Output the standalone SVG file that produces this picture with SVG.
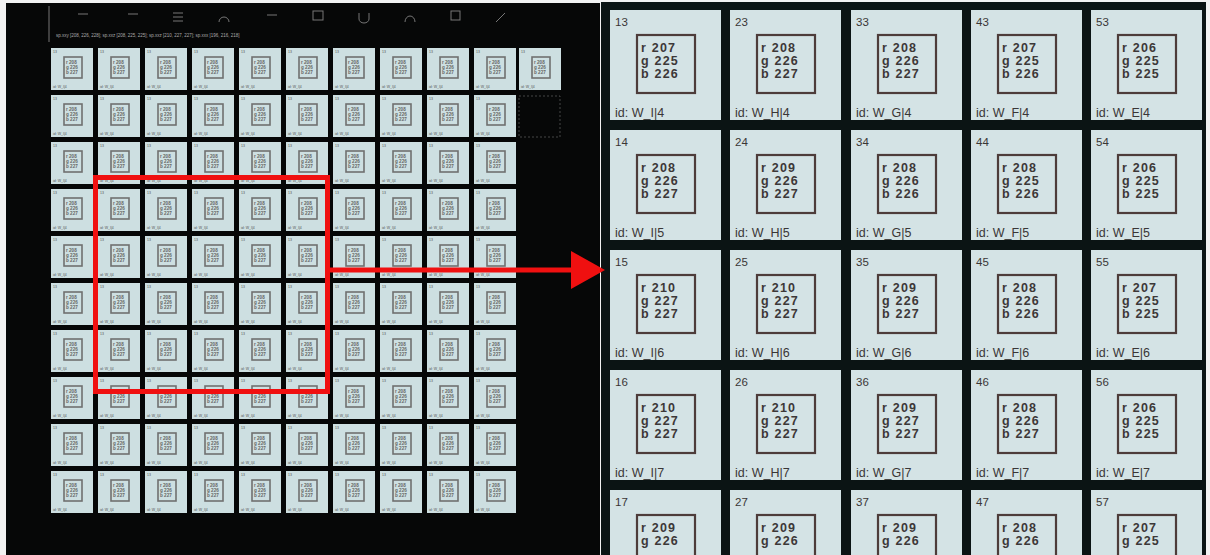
<svg xmlns="http://www.w3.org/2000/svg" xmlns:xlink="http://www.w3.org/1999/xlink" width="1210" height="555" viewBox="0 0 1210 555">
<style>
.t{fill:#d4e3e5}
.lt{fill:#cddfe1}
.sq{fill:none;stroke:#4d3c3a;stroke-width:2.2}
.lsq{fill:none;stroke:#707070;stroke-width:1.6}
.n{font-family:"Liberation Sans",Arial,sans-serif;font-size:11.5px;fill:#3a3636}
.v{font-family:"Liberation Sans",Arial,sans-serif;font-size:12.5px;font-weight:bold;letter-spacing:1.2px;fill:#3d3838}
.id{font-family:"Liberation Sans",Arial,sans-serif;font-size:12.5px;fill:#3a3636}
.ln{font-family:"Liberation Sans",Arial,sans-serif;font-size:3.5px;fill:#555}
.lv{font-family:"Liberation Sans",Arial,sans-serif;font-size:4.6px;font-weight:bold;fill:#666}
.red{stroke:#f01010;fill:none}
.ic{stroke:#777;stroke-width:1;fill:none}
</style>
<defs>
<symbol id="ltile" viewBox="0 0 42 42" width="42" height="42">
<rect class="lt" width="42" height="42"/>
<text class="ln" x="2" y="5">13</text>
<rect class="lsq" x="13" y="9" width="18" height="21"/>
<text class="lv" x="15" y="16">r 208</text>
<text class="lv" x="15" y="21">g 226</text>
<text class="lv" x="15" y="26">b 227</text>
<text class="ln" x="2" y="40">id: W_I|4</text>
</symbol>
</defs>
<rect width="1210" height="555" fill="#f2f2f2"/>
<g id="left-panel">
<rect x="6" y="3" width="594" height="552" fill="#060707"/>
<line class="ic" x1="49" y1="6" x2="49" y2="42"/>
<g id="toolbar">
<line class="ic" x1="78" y1="14" x2="88" y2="14"/>
<line class="ic" x1="128" y1="14" x2="138" y2="14"/>
<path class="ic" d="M173 13h10M173 17h10M173 21h10"/>
<path class="ic" d="M219 22a5 5 0 1 1 10 0"/>
<line class="ic" x1="267" y1="15" x2="277" y2="15"/>
<rect class="ic" x="313" y="11" width="10" height="9"/>
<path class="ic" d="M359 13v6a5 4 0 0 0 10 0v-6"/>
<path class="ic" d="M405 22a5 6 0 1 1 10 0"/>
<rect class="ic" x="451" y="11" width="9" height="9"/>
<line class="ic" x1="496" y1="22" x2="505" y2="13"/>
<text class="ln" x="56" y="37" style="font-size:4.5px;fill:#aaa">sp.xxy [208, 226, 228]; sp.xxz [208, 225, 225]; sp.xxz [210, 227, 227]; sp.xxx [196, 216, 218]</text>
</g>
<g id="grid-left">
<use id="L-0-0" href="#ltile" x="51" y="48"/><use id="L-0-1" href="#ltile" x="98" y="48"/><use id="L-0-2" href="#ltile" x="145" y="48"/><use id="L-0-3" href="#ltile" x="192" y="48"/><use id="L-0-4" href="#ltile" x="239" y="48"/><use id="L-0-5" href="#ltile" x="286" y="48"/><use id="L-0-6" href="#ltile" x="333" y="48"/><use id="L-0-7" href="#ltile" x="380" y="48"/><use id="L-0-8" href="#ltile" x="427" y="48"/><use id="L-0-9" href="#ltile" x="474" y="48"/><use id="L-0-10" href="#ltile" x="519" y="48"/>
<use id="L-1-0" href="#ltile" x="51" y="95"/><use id="L-1-1" href="#ltile" x="98" y="95"/><use id="L-1-2" href="#ltile" x="145" y="95"/><use id="L-1-3" href="#ltile" x="192" y="95"/><use id="L-1-4" href="#ltile" x="239" y="95"/><use id="L-1-5" href="#ltile" x="286" y="95"/><use id="L-1-6" href="#ltile" x="333" y="95"/><use id="L-1-7" href="#ltile" x="380" y="95"/><use id="L-1-8" href="#ltile" x="427" y="95"/><use id="L-1-9" href="#ltile" x="474" y="95"/>
<use id="L-2-0" href="#ltile" x="51" y="142"/><use id="L-2-1" href="#ltile" x="98" y="142"/><use id="L-2-2" href="#ltile" x="145" y="142"/><use id="L-2-3" href="#ltile" x="192" y="142"/><use id="L-2-4" href="#ltile" x="239" y="142"/><use id="L-2-5" href="#ltile" x="286" y="142"/><use id="L-2-6" href="#ltile" x="333" y="142"/><use id="L-2-7" href="#ltile" x="380" y="142"/><use id="L-2-8" href="#ltile" x="427" y="142"/><use id="L-2-9" href="#ltile" x="474" y="142"/>
<use id="L-3-0" href="#ltile" x="51" y="189"/><use id="L-3-1" href="#ltile" x="98" y="189"/><use id="L-3-2" href="#ltile" x="145" y="189"/><use id="L-3-3" href="#ltile" x="192" y="189"/><use id="L-3-4" href="#ltile" x="239" y="189"/><use id="L-3-5" href="#ltile" x="286" y="189"/><use id="L-3-6" href="#ltile" x="333" y="189"/><use id="L-3-7" href="#ltile" x="380" y="189"/><use id="L-3-8" href="#ltile" x="427" y="189"/><use id="L-3-9" href="#ltile" x="474" y="189"/>
<use id="L-4-0" href="#ltile" x="51" y="236"/><use id="L-4-1" href="#ltile" x="98" y="236"/><use id="L-4-2" href="#ltile" x="145" y="236"/><use id="L-4-3" href="#ltile" x="192" y="236"/><use id="L-4-4" href="#ltile" x="239" y="236"/><use id="L-4-5" href="#ltile" x="286" y="236"/><use id="L-4-6" href="#ltile" x="333" y="236"/><use id="L-4-7" href="#ltile" x="380" y="236"/><use id="L-4-8" href="#ltile" x="427" y="236"/><use id="L-4-9" href="#ltile" x="474" y="236"/>
<use id="L-5-0" href="#ltile" x="51" y="283"/><use id="L-5-1" href="#ltile" x="98" y="283"/><use id="L-5-2" href="#ltile" x="145" y="283"/><use id="L-5-3" href="#ltile" x="192" y="283"/><use id="L-5-4" href="#ltile" x="239" y="283"/><use id="L-5-5" href="#ltile" x="286" y="283"/><use id="L-5-6" href="#ltile" x="333" y="283"/><use id="L-5-7" href="#ltile" x="380" y="283"/><use id="L-5-8" href="#ltile" x="427" y="283"/><use id="L-5-9" href="#ltile" x="474" y="283"/>
<use id="L-6-0" href="#ltile" x="51" y="330"/><use id="L-6-1" href="#ltile" x="98" y="330"/><use id="L-6-2" href="#ltile" x="145" y="330"/><use id="L-6-3" href="#ltile" x="192" y="330"/><use id="L-6-4" href="#ltile" x="239" y="330"/><use id="L-6-5" href="#ltile" x="286" y="330"/><use id="L-6-6" href="#ltile" x="333" y="330"/><use id="L-6-7" href="#ltile" x="380" y="330"/><use id="L-6-8" href="#ltile" x="427" y="330"/><use id="L-6-9" href="#ltile" x="474" y="330"/>
<use id="L-7-0" href="#ltile" x="51" y="377"/><use id="L-7-1" href="#ltile" x="98" y="377"/><use id="L-7-2" href="#ltile" x="145" y="377"/><use id="L-7-3" href="#ltile" x="192" y="377"/><use id="L-7-4" href="#ltile" x="239" y="377"/><use id="L-7-5" href="#ltile" x="286" y="377"/><use id="L-7-6" href="#ltile" x="333" y="377"/><use id="L-7-7" href="#ltile" x="380" y="377"/><use id="L-7-8" href="#ltile" x="427" y="377"/><use id="L-7-9" href="#ltile" x="474" y="377"/>
<use id="L-8-0" href="#ltile" x="51" y="424"/><use id="L-8-1" href="#ltile" x="98" y="424"/><use id="L-8-2" href="#ltile" x="145" y="424"/><use id="L-8-3" href="#ltile" x="192" y="424"/><use id="L-8-4" href="#ltile" x="239" y="424"/><use id="L-8-5" href="#ltile" x="286" y="424"/><use id="L-8-6" href="#ltile" x="333" y="424"/><use id="L-8-7" href="#ltile" x="380" y="424"/><use id="L-8-8" href="#ltile" x="427" y="424"/><use id="L-8-9" href="#ltile" x="474" y="424"/>
<use id="L-9-0" href="#ltile" x="51" y="471"/><use id="L-9-1" href="#ltile" x="98" y="471"/><use id="L-9-2" href="#ltile" x="145" y="471"/><use id="L-9-3" href="#ltile" x="192" y="471"/><use id="L-9-4" href="#ltile" x="239" y="471"/><use id="L-9-5" href="#ltile" x="286" y="471"/><use id="L-9-6" href="#ltile" x="333" y="471"/><use id="L-9-7" href="#ltile" x="380" y="471"/><use id="L-9-8" href="#ltile" x="427" y="471"/><use id="L-9-9" href="#ltile" x="474" y="471"/>
<rect id="L-empty" x="519" y="96" width="41" height="41" fill="none" stroke="#555" stroke-width="0.8" stroke-dasharray="2 2"/>
</g>
</g>
<g id="right-panel">
<rect x="601" y="2" width="605" height="553" fill="#0b1414"/>
<g id="tile-13" transform="translate(610,10)"><rect class="t" width="111" height="110"/><text class="n" x="5" y="16">13</text><rect class="sq" x="27" y="25" width="58" height="58"/><text class="v" x="31" y="42">r 207</text><text class="v" x="31" y="55">g 225</text><text class="v" x="31" y="68">b 226</text><text class="id" x="5" y="107">id: W_I|4</text></g>
<g id="tile-23" transform="translate(730,10)"><rect class="t" width="111" height="110"/><text class="n" x="5" y="16">23</text><rect class="sq" x="27" y="25" width="58" height="58"/><text class="v" x="31" y="42">r 208</text><text class="v" x="31" y="55">g 226</text><text class="v" x="31" y="68">b 227</text><text class="id" x="5" y="107">id: W_H|4</text></g>
<g id="tile-33" transform="translate(851,10)"><rect class="t" width="111" height="110"/><text class="n" x="5" y="16">33</text><rect class="sq" x="27" y="25" width="58" height="58"/><text class="v" x="31" y="42">r 208</text><text class="v" x="31" y="55">g 226</text><text class="v" x="31" y="68">b 227</text><text class="id" x="5" y="107">id: W_G|4</text></g>
<g id="tile-43" transform="translate(971,10)"><rect class="t" width="111" height="110"/><text class="n" x="5" y="16">43</text><rect class="sq" x="27" y="25" width="58" height="58"/><text class="v" x="31" y="42">r 207</text><text class="v" x="31" y="55">g 225</text><text class="v" x="31" y="68">b 226</text><text class="id" x="5" y="107">id: W_F|4</text></g>
<g id="tile-53" transform="translate(1091,10)"><rect class="t" width="111" height="110"/><text class="n" x="5" y="16">53</text><rect class="sq" x="27" y="25" width="58" height="58"/><text class="v" x="31" y="42">r 206</text><text class="v" x="31" y="55">g 225</text><text class="v" x="31" y="68">b 225</text><text class="id" x="5" y="107">id: W_E|4</text></g>
<g id="tile-14" transform="translate(610,130)"><rect class="t" width="111" height="110"/><text class="n" x="5" y="16">14</text><rect class="sq" x="27" y="25" width="58" height="58"/><text class="v" x="31" y="42">r 208</text><text class="v" x="31" y="55">g 226</text><text class="v" x="31" y="68">b 227</text><text class="id" x="5" y="107">id: W_I|5</text></g>
<g id="tile-24" transform="translate(730,130)"><rect class="t" width="111" height="110"/><text class="n" x="5" y="16">24</text><rect class="sq" x="27" y="25" width="58" height="58"/><text class="v" x="31" y="42">r 209</text><text class="v" x="31" y="55">g 226</text><text class="v" x="31" y="68">b 227</text><text class="id" x="5" y="107">id: W_H|5</text></g>
<g id="tile-34" transform="translate(851,130)"><rect class="t" width="111" height="110"/><text class="n" x="5" y="16">34</text><rect class="sq" x="27" y="25" width="58" height="58"/><text class="v" x="31" y="42">r 208</text><text class="v" x="31" y="55">g 226</text><text class="v" x="31" y="68">b 226</text><text class="id" x="5" y="107">id: W_G|5</text></g>
<g id="tile-44" transform="translate(971,130)"><rect class="t" width="111" height="110"/><text class="n" x="5" y="16">44</text><rect class="sq" x="27" y="25" width="58" height="58"/><text class="v" x="31" y="42">r 208</text><text class="v" x="31" y="55">g 225</text><text class="v" x="31" y="68">b 226</text><text class="id" x="5" y="107">id: W_F|5</text></g>
<g id="tile-54" transform="translate(1091,130)"><rect class="t" width="111" height="110"/><text class="n" x="5" y="16">54</text><rect class="sq" x="27" y="25" width="58" height="58"/><text class="v" x="31" y="42">r 206</text><text class="v" x="31" y="55">g 225</text><text class="v" x="31" y="68">b 225</text><text class="id" x="5" y="107">id: W_E|5</text></g>
<g id="tile-15" transform="translate(610,250)"><rect class="t" width="111" height="110"/><text class="n" x="5" y="16">15</text><rect class="sq" x="27" y="25" width="58" height="58"/><text class="v" x="31" y="42">r 210</text><text class="v" x="31" y="55">g 227</text><text class="v" x="31" y="68">b 227</text><text class="id" x="5" y="107">id: W_I|6</text></g>
<g id="tile-25" transform="translate(730,250)"><rect class="t" width="111" height="110"/><text class="n" x="5" y="16">25</text><rect class="sq" x="27" y="25" width="58" height="58"/><text class="v" x="31" y="42">r 210</text><text class="v" x="31" y="55">g 227</text><text class="v" x="31" y="68">b 227</text><text class="id" x="5" y="107">id: W_H|6</text></g>
<g id="tile-35" transform="translate(851,250)"><rect class="t" width="111" height="110"/><text class="n" x="5" y="16">35</text><rect class="sq" x="27" y="25" width="58" height="58"/><text class="v" x="31" y="42">r 209</text><text class="v" x="31" y="55">g 226</text><text class="v" x="31" y="68">b 227</text><text class="id" x="5" y="107">id: W_G|6</text></g>
<g id="tile-45" transform="translate(971,250)"><rect class="t" width="111" height="110"/><text class="n" x="5" y="16">45</text><rect class="sq" x="27" y="25" width="58" height="58"/><text class="v" x="31" y="42">r 208</text><text class="v" x="31" y="55">g 226</text><text class="v" x="31" y="68">b 226</text><text class="id" x="5" y="107">id: W_F|6</text></g>
<g id="tile-55" transform="translate(1091,250)"><rect class="t" width="111" height="110"/><text class="n" x="5" y="16">55</text><rect class="sq" x="27" y="25" width="58" height="58"/><text class="v" x="31" y="42">r 207</text><text class="v" x="31" y="55">g 225</text><text class="v" x="31" y="68">b 225</text><text class="id" x="5" y="107">id: W_E|6</text></g>
<g id="tile-16" transform="translate(610,370)"><rect class="t" width="111" height="110"/><text class="n" x="5" y="16">16</text><rect class="sq" x="27" y="25" width="58" height="58"/><text class="v" x="31" y="42">r 210</text><text class="v" x="31" y="55">g 227</text><text class="v" x="31" y="68">b 227</text><text class="id" x="5" y="107">id: W_I|7</text></g>
<g id="tile-26" transform="translate(730,370)"><rect class="t" width="111" height="110"/><text class="n" x="5" y="16">26</text><rect class="sq" x="27" y="25" width="58" height="58"/><text class="v" x="31" y="42">r 210</text><text class="v" x="31" y="55">g 227</text><text class="v" x="31" y="68">b 227</text><text class="id" x="5" y="107">id: W_H|7</text></g>
<g id="tile-36" transform="translate(851,370)"><rect class="t" width="111" height="110"/><text class="n" x="5" y="16">36</text><rect class="sq" x="27" y="25" width="58" height="58"/><text class="v" x="31" y="42">r 209</text><text class="v" x="31" y="55">g 227</text><text class="v" x="31" y="68">b 227</text><text class="id" x="5" y="107">id: W_G|7</text></g>
<g id="tile-46" transform="translate(971,370)"><rect class="t" width="111" height="110"/><text class="n" x="5" y="16">46</text><rect class="sq" x="27" y="25" width="58" height="58"/><text class="v" x="31" y="42">r 208</text><text class="v" x="31" y="55">g 226</text><text class="v" x="31" y="68">b 227</text><text class="id" x="5" y="107">id: W_F|7</text></g>
<g id="tile-56" transform="translate(1091,370)"><rect class="t" width="111" height="110"/><text class="n" x="5" y="16">56</text><rect class="sq" x="27" y="25" width="58" height="58"/><text class="v" x="31" y="42">r 206</text><text class="v" x="31" y="55">g 225</text><text class="v" x="31" y="68">b 225</text><text class="id" x="5" y="107">id: W_E|7</text></g>
<g id="tile-17" transform="translate(610,490)"><rect class="t" width="111" height="110"/><text class="n" x="5" y="16">17</text><rect class="sq" x="27" y="25" width="58" height="58"/><text class="v" x="31" y="42">r 209</text><text class="v" x="31" y="55">g 226</text></g>
<g id="tile-27" transform="translate(730,490)"><rect class="t" width="111" height="110"/><text class="n" x="5" y="16">27</text><rect class="sq" x="27" y="25" width="58" height="58"/><text class="v" x="31" y="42">r 209</text><text class="v" x="31" y="55">g 226</text></g>
<g id="tile-37" transform="translate(851,490)"><rect class="t" width="111" height="110"/><text class="n" x="5" y="16">37</text><rect class="sq" x="27" y="25" width="58" height="58"/><text class="v" x="31" y="42">r 209</text><text class="v" x="31" y="55">g 226</text></g>
<g id="tile-47" transform="translate(971,490)"><rect class="t" width="111" height="110"/><text class="n" x="5" y="16">47</text><rect class="sq" x="27" y="25" width="58" height="58"/><text class="v" x="31" y="42">r 208</text><text class="v" x="31" y="55">g 226</text></g>
<g id="tile-57" transform="translate(1091,490)"><rect class="t" width="111" height="110"/><text class="n" x="5" y="16">57</text><rect class="sq" x="27" y="25" width="58" height="58"/><text class="v" x="31" y="42">r 207</text><text class="v" x="31" y="55">g 225</text></g>
</g>
<g id="connectors">
<rect id="zoom-frame" class="red" x="95.5" y="177.5" width="232" height="214" stroke-width="5"/>
<line class="red" x1="330" y1="270" x2="574" y2="270" stroke-width="5"/>
<polygon points="571,251 605,270 571,289" fill="#f01010"/>
</g>
</svg>
